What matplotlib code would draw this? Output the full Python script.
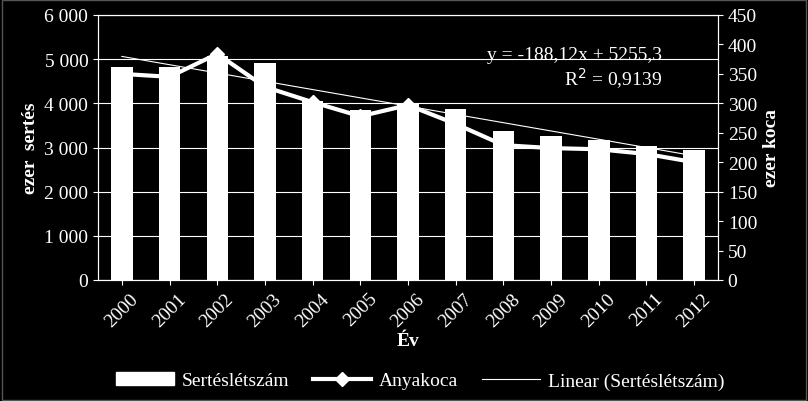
import matplotlib
matplotlib.use("Agg")
import matplotlib.pyplot as plt
from matplotlib.lines import Line2D
from matplotlib.patches import Patch
import numpy as np

years = ["2000","2001","2002","2003","2004","2005","2006","2007","2008","2009","2010","2011","2012"]
sertes = [4820, 4820, 5080, 4910, 4060, 3850, 3990, 3870, 3380, 3250, 3170, 3030, 2950]
anyakoca = [350, 345, 384, 328, 302, 278, 297, 265, 229, 224, 222, 214, 200]
left_ticks = [0, 1000, 2000, 3000, 4000, 5000, 6000]
left_labels = ["0", "1 000", "2 000", "3 000", "4 000", "5 000", "6 000"]

plt.rcParams["font.family"] = "Liberation Serif"
fig = plt.figure(figsize=(8.08, 4.02), dpi=100, facecolor="black")
ax = fig.add_axes([98/808, 1-281/402, 620/808, 265/402], facecolor="black")
x = np.arange(len(years))
ax.bar(x, sertes, width=0.45, color="white", zorder=2)
slope, inter = np.polyfit(x + 1, sertes, 1)
ax.plot(x, slope*(x+1)+inter, color="white", lw=0.8, zorder=3)
ax.set_ylim(0, 6000)
ax.set_xlim(-0.5, len(years)-0.5)
ax.set_yticks(left_ticks)
ax.set_yticklabels(left_labels)
ax.yaxis.grid(True, color="white", lw=0.8)
ax.set_axisbelow(True)
ax.set_xticks(x)
ax.set_xticklabels(years, rotation=45)
for s in ax.spines.values():
    s.set_color("white")
ax.tick_params(colors="white", labelsize=14)
ax.set_ylabel("ezer  sertés", color="white", fontsize=14, fontweight="bold")
ax.set_xlabel("Év", color="white", fontsize=14, fontweight="bold", labelpad=2)

ax2 = ax.twinx()
ax2.plot(x, anyakoca, color="white", lw=3, marker="D", markersize=7, zorder=4)
ax2.set_ylim(0, 450)
ax2.set_yticks(range(0, 451, 50))
ax2.tick_params(colors="white", labelsize=14)
for s in ax2.spines.values():
    s.set_color("white")
ax2.set_ylabel("ezer koca", color="white", fontsize=14, fontweight="bold")

ax.text(0.91, 0.8, "y = -188,12x + 5255,3\nR$^2$ = 0,9139", transform=ax.transAxes,
        color="white", fontsize=14, ha="right", va="center", linespacing=1.1)

handles = [Patch(color="white"),
           Line2D([], [], color="white", lw=3, marker="D", markersize=7),
           Line2D([], [], color="white", lw=0.8)]
fig.legend(handles, ["Sertéslétszám", "Anyakoca", "Linear (Sertéslétszám)"],
           loc="lower center", bbox_to_anchor=(0.52, -0.015), ncol=3, frameon=False,
           labelcolor="white", fontsize=14, handlelength=3, columnspacing=1.2,
           handletextpad=0.4)
fig.patches.append(plt.Rectangle((0.002, 0.003), 0.996, 0.994, transform=fig.transFigure,
                                 fill=False, edgecolor="#555555", lw=1))
fig.savefig("out.png", facecolor="black")
